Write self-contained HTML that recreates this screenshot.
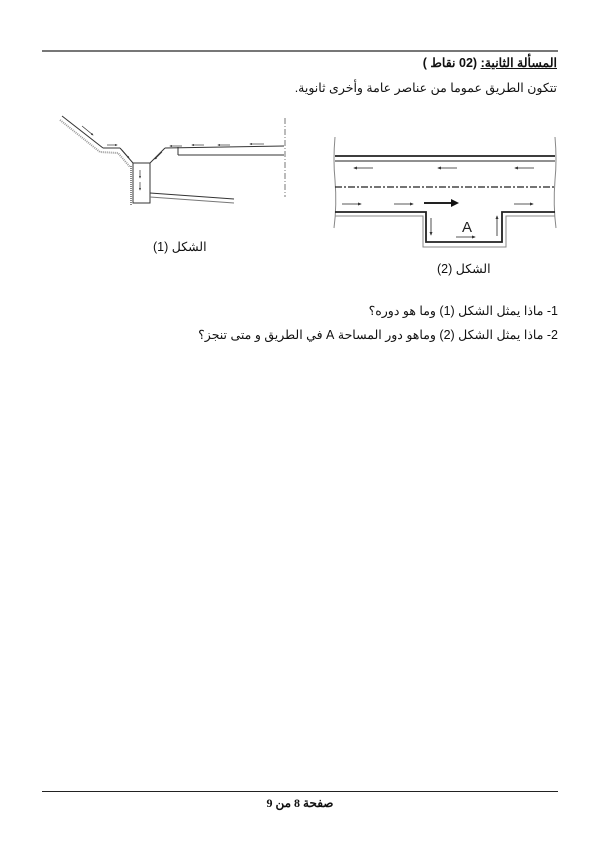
<!DOCTYPE html>
<html><head><meta charset="utf-8"><style>
html,body{margin:0;padding:0;background:#fff;}
body{width:600px;height:849px;position:relative;overflow:hidden;font-family:"Liberation Sans","Noto Sans CJK SC",sans-serif;color:#111;}
.t{position:absolute;white-space:nowrap;direction:rtl;font-size:12.5px;}
</style></head><body>
<div style="position:absolute;left:42px;top:50px;width:516px;height:2px;background:#777"></div>
<div class="t" style="right:43px;top:55px;font-weight:bold;"><span style="text-decoration:underline">المسألة الثانية:</span> (02 نقاط )</div>
<div class="t" style="right:43px;top:80px;">تتكون الطريق عموما من عناصر عامة وأخرى ثانوية.</div>

<svg style="position:absolute;left:0;top:0" width="600" height="849" viewBox="0 0 600 849">
<defs><marker id="a1" markerWidth="4" markerHeight="3" refX="3" refY="1.5" orient="auto"><path d="M0 0 L4 1.5 L0 3z" fill="#333"/></marker></defs>
<g stroke="#333" fill="none" stroke-width="1">
 <line x1="62" y1="116" x2="103" y2="148"/>
 <line x1="103" y1="148" x2="120" y2="148"/>
 <line x1="120" y1="148" x2="133" y2="163"/>
 <path d="M60 120 L100 152 L118 153 L130 167" stroke="#999" stroke-width="2" stroke-dasharray="1 1"/>
 <rect x="133" y="163" width="17" height="40"/>
 <line x1="131" y1="166" x2="131" y2="205" stroke="#888" stroke-width="2" stroke-dasharray="1 1"/>
 <line x1="150" y1="163" x2="165" y2="148"/>
 <line x1="165" y1="148" x2="284" y2="146"/>
 <line x1="178" y1="147" x2="178" y2="155"/>
 <line x1="178" y1="155" x2="284" y2="155"/>
 <line x1="285" y1="118" x2="285" y2="197" stroke-dasharray="6 2 1 2" stroke="#777"/>
 <line x1="150" y1="193" x2="234" y2="199"/>
 <line x1="150" y1="197" x2="234" y2="203" stroke="#777"/>
 <g stroke-width="0.7" marker-end="url(#a1)">
 <line x1="140" y1="170" x2="140" y2="178"/><line x1="140" y1="182" x2="140" y2="190"/>
 <line x1="82" y1="126" x2="93" y2="135"/><line x1="107" y1="145" x2="117" y2="145"/>
 <line x1="122" y1="150" x2="129" y2="158"/><line x1="162" y1="152" x2="155" y2="159"/>
 <line x1="182" y1="146" x2="170" y2="146"/><line x1="204" y1="145" x2="192" y2="145"/>
 <line x1="230" y1="145" x2="218" y2="145"/><line x1="264" y1="144" x2="250" y2="144"/>
 </g>
</g>
</svg>
<div class="t" style="left:153px;top:239px;direction:rtl;">الشكل (1)</div>

<svg style="position:absolute;left:0;top:0" width="600" height="849" viewBox="0 0 600 849">
<defs><marker id="ah" markerWidth="5" markerHeight="4" refX="4" refY="2" orient="auto"><path d="M0 0 L5 2 L0 4z" fill="#333"/></marker>
<marker id="ahb" markerWidth="4" markerHeight="4" refX="3" refY="2" orient="auto"><path d="M0 0 L4 2 L0 4z" fill="#111"/></marker></defs>
<g stroke="#222" fill="none">
 <path d="M335 137 Q333 160 335 180 Q337 205 334 228" stroke="#888"/>
 <path d="M555 137 Q557 160 555 180 Q553 205 556 228" stroke="#888"/>
 <line x1="335" y1="156" x2="555" y2="156" stroke-width="1.8"/>
 <line x1="335" y1="161" x2="555" y2="161"/>
 <line x1="335" y1="187" x2="555" y2="187" stroke-dasharray="7 2 2 2" stroke-width="1.3"/>
 <polyline points="335,212 426,212 426,242 502,242 502,212 555,212" stroke-width="1.8"/>
 <polyline points="335,216 423,216 423,247 506,247 506,216 555,216" stroke="#888"/>
 <line x1="373" y1="168" x2="354" y2="168" marker-end="url(#ah)" stroke-width="0.8"/>
 <line x1="457" y1="168" x2="438" y2="168" marker-end="url(#ah)" stroke-width="0.8"/>
 <line x1="534" y1="168" x2="515" y2="168" marker-end="url(#ah)" stroke-width="0.8"/>
 <line x1="342" y1="204" x2="361" y2="204" marker-end="url(#ah)" stroke-width="0.8"/>
 <line x1="394" y1="204" x2="413" y2="204" marker-end="url(#ah)" stroke-width="0.8"/>
 <line x1="424" y1="203" x2="457" y2="203" marker-end="url(#ahb)" stroke-width="2"/>
 <line x1="514" y1="204" x2="533" y2="204" marker-end="url(#ah)" stroke-width="0.8"/>
 <line x1="431" y1="218" x2="431" y2="235" marker-end="url(#ah)" stroke-width="0.8"/>
 <line x1="497" y1="236" x2="497" y2="216" marker-end="url(#ah)" stroke-width="0.8"/>
 <line x1="456" y1="237" x2="475" y2="237" marker-end="url(#ah)" stroke-width="0.8"/>
</g>
<text x="467" y="232" font-size="15" text-anchor="middle" font-family="Liberation Sans" fill="#222">A</text>
</svg>
<div class="t" style="left:437px;top:261px;direction:rtl;">الشكل (2)</div>

<div class="t" style="right:42px;top:303px;">1- ماذا يمثل الشكل (1)  وما هو دوره؟</div>
<div class="t" style="right:42px;top:327px;">2- ماذا يمثل الشكل (2) وماهو دور المساحة A في الطريق و متى تنجز؟</div>

<div style="position:absolute;left:42px;top:791px;width:516px;height:1px;background:#222"></div>
<div class="t" style="left:0;width:600px;text-align:center;top:796px;font-family:'Liberation Serif','Noto Serif CJK SC',serif;font-weight:bold;font-size:12px;direction:rtl;">صفحة 8 من 9</div>
</body></html>
